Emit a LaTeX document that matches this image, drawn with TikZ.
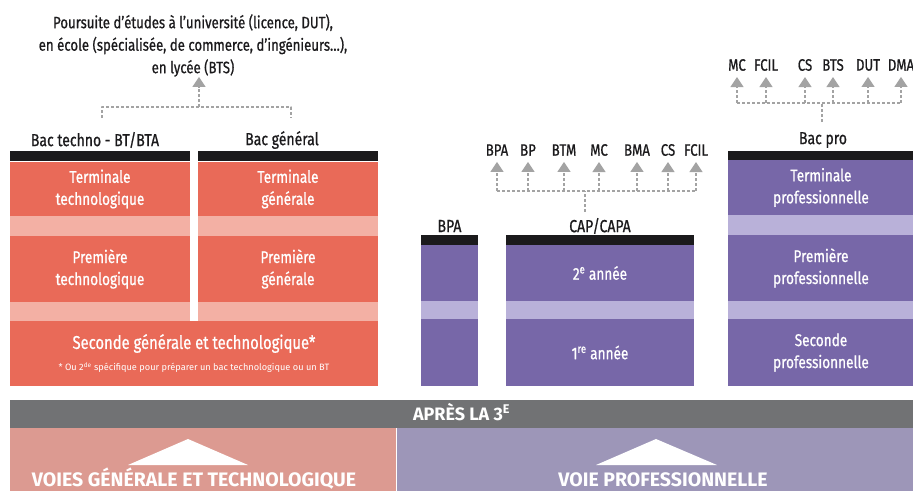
\documentclass[tikz,border=0pt]{standalone}
\usepackage{fontspec}
\setmainfont{Fira Sans}[FakeStretch=0.8,FakeBold=0.8]
\newfontfamily\widefont{Fira Sans}
\usetikzlibrary{arrows.meta}
\definecolor{gtred}{HTML}{E96A58}
\definecolor{gtredlight}{HTML}{F3B0A4}
\definecolor{propurple}{HTML}{7767A8}
\definecolor{propurplelight}{HTML}{B9B1D9}
\definecolor{barblack}{HTML}{1B1A1C}
\definecolor{bargrey}{HTML}{717274}
\definecolor{gtpink}{HTML}{DC9A91}
\definecolor{prolilac}{HTML}{9D96B8}
\definecolor{linkgrey}{HTML}{A3A3A3}

\begin{document}
\begin{tikzpicture}[line cap=butt,line join=round,x=1pt,y=-1pt,
    box/.style={inner sep=0pt,align=center,text=white,font=\fontsize{17}{22}\selectfont},
    redbox/.style={box,fill=gtred},
    redband/.style={box,fill=gtredlight},
    purplebox/.style={box,fill=propurple},
    purpleband/.style={box,fill=propurplelight},
    topbar/.style={inner sep=0pt,fill=barblack,minimum height=10},
    header/.style={inner sep=1pt,text=barblack,font=\fontsize{17.5}{19}\selectfont},
    outlet/.style={inner sep=1pt,text=barblack,font=\fontsize{16.5}{18}\selectfont},
    link/.style={linkgrey,line width=1.3pt,dash pattern=on 3pt off 2pt},
    uparrow/.style={link,shorten >=5pt,-{Triangle[width=13pt,length=10pt]}},
    voietext/.style={anchor=base,text=white,font=\widefont\bfseries\fontsize{19.5}{22}\selectfont}]
    \useasboundingbox (0,0) rectangle (913,491);

    % voie generale et technologique
    \node[align=center,inner sep=0pt,text=barblack,font=\fontsize{16.5}{22.5}\selectfont] (poursuite) at (193,45.5)
        {Poursuite d’études à l’université (licence, DUT),\\en école (spécialisée, de commerce, d’ingénieurs…),\\en lycée (BTS)};
    \node[header] (technolabel) at (95,140) {Bac techno - BT/BTA};
    \node[header] (generallabel) at (282,140) {Bac général};
    \node[topbar,minimum width=180] (technobar) at (100,156) {};
    \node[topbar,minimum width=180] (generalbar) at (288,156) {};
    \node[redbox,minimum width=180,minimum height=55] (termtech) at (100,189) {Terminale\\technologique};
    \node[redbox,minimum width=180,minimum height=55] (termgen) at (288,189) {Terminale\\générale};
    \node[redband,minimum width=180,minimum height=20] (bandtech) at (100,226) {};
    \node[redband,minimum width=180,minimum height=20] (bandgen) at (288,226) {};
    \node[redbox,minimum width=180,minimum height=66] (premtech) at (100,269) {Première\\technologique};
    \node[redbox,minimum width=180,minimum height=66] (premgen) at (288,269) {Première\\générale};
    \node[redband,minimum width=180,minimum height=19] (bandtechb) at (100,311.5) {};
    \node[redband,minimum width=180,minimum height=19] (bandgenb) at (288,311.5) {};
    \node[redbox,minimum width=368,minimum height=65,font=\fontsize{18.5}{22}\selectfont] (seconde) at (194,353.5)
        {Seconde générale et technologique*\\[0pt]{\widefont\fontsize{9.2}{10}\selectfont * Ou 2\textsuperscript{de} spécifique pour préparer un bac technologique ou un BT}};

    \coordinate (techdrop) at (102,118);
    \coordinate (gendrop) at (291,118);
    \coordinate (leftjoin) at (199,107);
    \draw[link] (techdrop) |- (leftjoin) -| (gendrop);
    \draw[link,-{Triangle[width=13pt,length=10pt]}] (leftjoin) -- (poursuite.south -| leftjoin);

    % CAP et BPA
    \node[header] (bpalabel) at (449.5,226) {BPA};
    \node[header] (caplabel) at (600,226) {CAP/CAPA};
    \node[topbar,minimum width=57] (bpabar) at (449.5,240) {};
    \node[topbar,minimum width=188] (capbar) at (600,240) {};
    \node[purplebox,minimum width=57,minimum height=56] (bpatop) at (449.5,273) {};
    \node[purplebox,minimum width=188,minimum height=56] (capsecond) at (600,273) {2\textsuperscript{e} année};
    \node[purpleband,minimum width=57,minimum height=18] (bpaband) at (449.5,310) {};
    \node[purpleband,minimum width=188,minimum height=18] (capband) at (600,310) {};
    \node[purplebox,minimum width=57,minimum height=67] (bpabottom) at (449.5,352.5) {};
    \node[purplebox,minimum width=188,minimum height=67] (capfirst) at (600,352.5) {1\textsuperscript{re} année};

    \coordinate (capdrop) at (585,212);
    \coordinate (midjoin) at (585,191);
    \foreach \name/\x/\txt in {capbpa/497/BPA,capbp/528/BP,capbtm/564/BTM,capmc/599/MC,capbma/637/BMA,capcs/668/CS,capfcil/696/FCIL}
    {
        \node[outlet] (\name) at (\x,150) {\txt};
        \draw[uparrow] (\name |- midjoin) -- (\name);
    }
    \draw[link] (capbpa |- midjoin) -- (capfcil |- midjoin);
    \draw[link] (capdrop) -- (midjoin);

    % bac pro
    \node[header] (prolabel) at (823,140) {Bac pro};
    \node[topbar,minimum width=186,minimum height=9] (probar) at (821,155.5) {};
    \node[purplebox,minimum width=186,minimum height=55] (termpro) at (821,187.5) {Terminale\\professionnelle};
    \node[purpleband,minimum width=186,minimum height=20] (bandpro) at (821,225) {};
    \node[purplebox,minimum width=186,minimum height=66] (prempro) at (821,268) {Première\\professionnelle};
    \node[purpleband,minimum width=186,minimum height=18] (bandprob) at (821,310) {};
    \node[purplebox,minimum width=186,minimum height=67] (secpro) at (821,352.5) {Seconde\\professionnelle};

    \coordinate (prodrop) at (822,122);
    \coordinate (rightjoin) at (822,103);
    \foreach \name/\x/\txt in {promc/737/MC,profcil/766/FCIL,procs/805/CS,probts/833/BTS,produt/868/DUT,prodma/901/DMA}
    {
        \node[outlet] (\name) at (\x,65) {\txt};
        \draw[uparrow] (\name |- rightjoin) -- (\name);
    }
    \draw[link] (promc |- rightjoin) -- (prodma |- rightjoin);
    \draw[link] (prodrop) -- (rightjoin);

    % apres la 3e
    \node[fill=bargrey,minimum width=903,minimum height=28,inner sep=0pt,text height=12.5,text depth=0,
        text=white,font=\widefont\bfseries\fontsize{18}{20}\selectfont] (apres) at (461.5,414) {APRÈS LA 3\textsuperscript{E}};
    \node[fill=gtpink,minimum width=386,minimum height=63,inner sep=0pt] (gtvoie) at (203,459.5) {};
    \node[fill=prolilac,minimum width=516,minimum height=63,inner sep=0pt] (provoie) at (655,459.5) {};
    \fill[white] (128,465) -- (188,439) -- (248,465) -- cycle;
    \fill[white] (596,465) -- (656,439) -- (717,465) -- cycle;
    \node[voietext] (gtvoielabel) at (194,486) {VOIES GÉNÉRALE ET TECHNOLOGIQUE};
    \node[voietext] (provoielabel) at (663,486) {VOIE PROFESSIONNELLE};
\end{tikzpicture}
\end{document}
